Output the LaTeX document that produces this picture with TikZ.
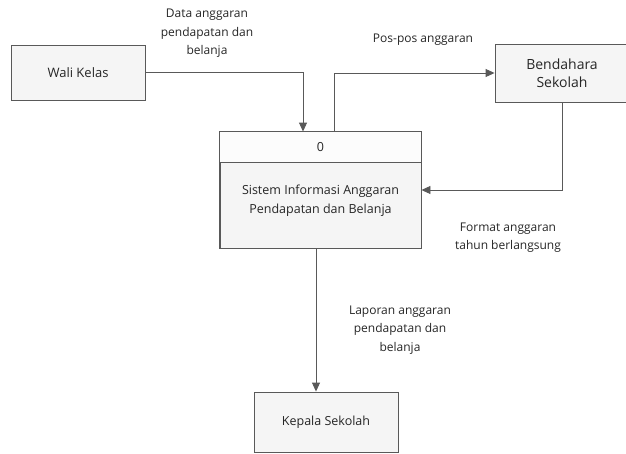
\documentclass[tikz,border=0pt]{standalone}
\usepackage{fontspec}
\setmainfont{Open Sans}
\usetikzlibrary{arrows.meta}
\begin{document}
\begin{tikzpicture}[x=1pt,y=-1pt,
  box/.style={draw=gray!70!black, line width=0.9pt, fill=gray!8, inner sep=0pt},
  conn/.style={draw=gray!70!black, line width=0.9pt, -{Triangle[length=9pt,width=8pt]}},
  lbl/.style={align=center, font=\fontsize{12}{18.5}\selectfont, text=black!85, inner sep=0pt},
  txt/.style={align=center, font=\fontsize{12.5}{19}\selectfont, text=black!85, inner sep=0pt}]
\useasboundingbox (0,0) rectangle (626,453);
% boxes
\node[box, minimum width=134pt, minimum height=55pt] (wali) at (78,72.5) {};
\node[txt, font=\fontsize{13}{19}\selectfont] (walit) at (wali.center) {Wali Kelas};
\node[box, minimum width=134pt, minimum height=58pt] (bend) at (562,73) {};
\node[txt, font=\fontsize{14}{18}\selectfont] (bendt) at (bend.center) {Bendahara\\Sekolah};
\node[box, minimum width=201pt, minimum height=116pt] (proc) at (320.5,190) {};
\fill[gray!2] ([shift={(0.5,0.5)}]proc.north west) rectangle ([shift={(-0.5,0)}]proc.east |- 0,162);
\draw[draw=gray!70!black, line width=0.9pt] (proc.north west) rectangle (proc.south east);
\draw[draw=gray!70!black, line width=0.9pt] (proc.west |- 0,162) -- (proc.east |- 0,162);
\node[txt] (procid) at (320.5,147) {0};
\node[txt] (proct) at (320.5,201) {Sistem Informasi Anggaran\\Pendapatan dan Belanja};
\node[box, minimum width=144pt, minimum height=60pt] (kep) at (326,422) {};
\node[txt] (kept) at (kep.center) {Kepala Sekolah};
% connectors
\coordinate (c1) at ([xshift=-17.5pt]proc.north);
\coordinate (c2) at ([xshift=13.5pt]proc.north);
\coordinate (c3) at ([xshift=-4.5pt]proc.south);
\draw[conn] (wali.east) -| (c1);
\draw[conn] (c2) |- (bend.west);
\draw[conn] (bend.south) |- ([yshift=0pt]proc.east);
\draw[conn] (c3) -- (c3 |- kep.north);
% labels
\node[lbl] (l1) at (207,33.5) {Data anggaran\\pendapatan dan\\belanja};
\node[lbl] (l2) at (423,40) {Pos-pos anggaran};
\node[lbl] (l3) at (508,237.5) {Format anggaran\\tahun berlangsung};
\node[lbl] (l4) at (400,330) {Laporan anggaran\\pendapatan dan\\belanja};
\end{tikzpicture}
\end{document}
